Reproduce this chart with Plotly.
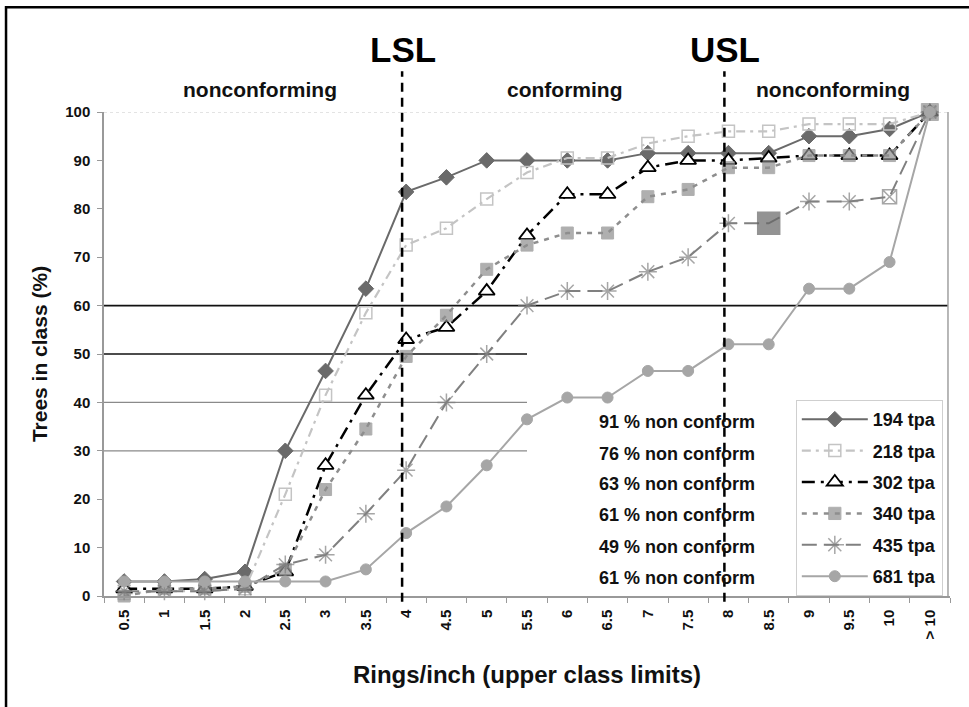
import plotly.graph_objects as go

categories = ["0.5", "1", "1.5", "2", "2.5", "3", "3.5", "4", "4.5", "5", "5.5",
              "6", "6.5", "7", "7.5", "8", "8.5", "9", "9.5", "10", "> 10"]

tpa_194 = [3, 3, 3.5, 5, 30, 46.5, 63.5, 83.5, 86.5, 90, 90, 90, 90, 91.5, 91.5, 91.5, 91.5, 95, 95, 96.5, 100]
tpa_218 = [0.5, 1, 1, 1.5, 21, 41.5, 58.5, 72.5, 76, 82, 87.5, 90.5, 90.5, 93.5, 95, 96, 96, 97.5, 97.5, 97.5, 100]
tpa_302 = [1.5, 1.5, 1.5, 2, 5, 27, 41.5, 53, 55.5, 63, 74.5, 83, 83, 88.5, 90, 90, 90.5, 91, 91, 91, 100]
tpa_340 = [0, 1.5, 1.5, 2, 5.5, 22, 34.5, 49.5, 58, 67.5, 72.5, 75, 75, 82.5, 84, 88.5, 88.5, 91, 91, 91, 100]
tpa_435 = [1, 1, 1, 1.5, 6.5, 8.5, 17, 26, 40, 50, 60, 63, 63, 67, 70, 77, 77, 81.5, 81.5, 82.5, 100]
tpa_681 = [3, 3, 3, 3, 3, 3, 5.5, 13, 18.5, 27, 36.5, 41, 41, 46.5, 46.5, 52, 52, 63.5, 63.5, 69, 100]

series_names = ["194 tpa", "218 tpa", "302 tpa", "340 tpa", "435 tpa", "681 tpa"]
nonconform_labels = ["91 % non conform", "76 % non conform", "63 % non conform",
                     "61 % non conform", "49 % non conform", "61 % non conform"]
spec_limits = {"LSL": "4", "USL": "8"}

FONT = "Liberation Sans, Arial, sans-serif"
fig = go.Figure()

n = len(categories)

def add(y, name, color, dash, width, symbol, size, mfill, mline_color, mline_w, group):
    fig.add_trace(go.Scatter(
        x=categories, y=y, name=name, mode="lines+markers", legendgroup=group,
        line=dict(color=color, dash=dash, width=width),
        marker=dict(symbol=symbol, size=size, color=mfill,
                    line=dict(color=mline_color, width=mline_w)),
        cliponaxis=False))

add(tpa_194, series_names[0], "#6a6a6a", "solid", 2, "diamond", 12, "#6a6a6a", "#6a6a6a", 1, "a")
add(tpa_218, series_names[1], "#c4c4c4", "9px,5px,3px,5px", 2.2, "square-open", 12, "#c4c4c4", "#b8b8b8", 1.5, "b")
add(tpa_302, series_names[2], "#000000", "13px,6px,3px,6px", 2.5, "triangle-up", 14, "white", "#000000", 1.8, "c")
add(tpa_340, series_names[3], "#8e8e8e", "5px,6px", 2.5,
    "square", [12] * (n - 1) + [17], "#8e8e8e", "#8e8e8e", 1, "d")
sym435 = ["asterisk-open"] * n
size435 = [15] * n
col435 = ["#808080"] * n
sym435[16] = "square"; size435[16] = 22; col435[16] = "#666666"
sym435[19] = "square-x-open"; size435[19] = 14
fig.add_trace(go.Scatter(
    x=categories, y=tpa_435, name=series_names[4], mode="lines+markers", legendgroup="e",
    line=dict(color="#808080", dash="15px,7px", width=2),
    marker=dict(symbol=sym435, size=size435, color=col435, line=dict(color=col435, width=1.5)),
    cliponaxis=False))
add(tpa_681, series_names[5], "#a6a6a6", "solid", 2, "circle", 11, "#a6a6a6", "#a6a6a6", 1, "f")

shapes = []
shapes.append(dict(type="line", xref="x", yref="y", x0=-0.65, x1=20.45, y0=60, y1=60,
                   line=dict(color="#111111", width=1.6), layer="below"))
shapes.append(dict(type="line", xref="x", yref="y", x0=-0.5, x1=10, y0=50, y1=50,
                   line=dict(color="#111111", width=1.6), layer="below"))
for yv in (40, 30):
    shapes.append(dict(type="line", xref="x", yref="y", x0=-0.65, x1=10, y0=yv, y1=yv,
                       line=dict(color="#8a8a8a", width=1.2), layer="below"))
shapes.append(dict(type="line", xref="x", yref="y", x0=-0.5, x1=20.45, y0=100, y1=100,
                   line=dict(color="#c8c8c8", width=1, dash="dot"), layer="below"))
shapes.append(dict(type="line", xref="x", yref="y", x0=20.45, x1=20.45, y0=0, y1=100,
                   line=dict(color="#a0a0a0", width=1.5), layer="below"))
lim_pos = {}
for lab, cat in spec_limits.items():
    idx = categories.index(cat) - 0.1
    px = (idx + 0.5) / n
    lim_pos[lab] = idx
    shapes.append(dict(type="line", xref="paper", yref="paper", x0=px, x1=px, y0=-0.012, y1=1.084,
                       line=dict(color="#000000", width=2.5, dash="9px,6px")))
shapes.append(dict(type="rect", xref="paper", yref="paper", x0=-0.1158, x1=1.04, y0=-0.3, y1=1.2164,
                   line=dict(color="#000000", width=2.5), layer="below"))

ann = []
for lab, idx in lim_pos.items():
    ann.append(dict(x=idx + 0.02, y=1.129, xref="x", yref="paper", text=lab, showarrow=False,
                    font=dict(family=FONT, size=35, color="#000", weight="bold"),
                    xanchor="center", yanchor="middle"))
for xv, t in ((3.37, "nonconforming"), (10.94, "conforming"), (17.6, "nonconforming")):
    ann.append(dict(x=xv, y=1.0466, xref="x", yref="paper", text=t, showarrow=False,
                    yanchor="middle",
                    font=dict(family=FONT, size=21, color="#111", weight="bold")))
ys = [36, 29.4, 23.1, 16.7, 10.1, 3.7]
for yv, t in zip(ys, nonconform_labels):
    ann.append(dict(x=15.72, y=yv, xref="x", yref="y", text=t, showarrow=False, xanchor="right",
                    font=dict(family=FONT, size=18, color="#111", weight="bold")))

fig.update_layout(
    width=969, height=707,
    margin=dict(l=104, r=19, t=112, b=111),
    paper_bgcolor="white", plot_bgcolor="white",
    font=dict(family=FONT, color="#111"),
    shapes=shapes, annotations=ann,
    showlegend=True,
    legend=dict(x=0.9915, y=0.0, xanchor="right", yanchor="bottom",
                traceorder="grouped", tracegroupgap=5, itemwidth=66,
                bordercolor="#cfcfcf", borderwidth=1, bgcolor="white",
                font=dict(family=FONT, size=18, color="#111", weight="bold")),
    xaxis=dict(type="category", categoryorder="array", categoryarray=categories,
               range=[-0.5, 20.5], tickangle=-90, tickson="boundaries",
               ticks="outside", ticklen=5, tickcolor="#999", showline=True,
               linecolor="#999", linewidth=1.5, showgrid=False, zeroline=False,
               ticklabelstandoff=6,
               tickfont=dict(family=FONT, size=15, color="#111", weight="bold"),
               title=dict(text="Rings/inch (upper class limits)", standoff=28,
                          font=dict(family=FONT, size=24, color="#111", weight="bold"))),
    yaxis=dict(range=[0, 100], dtick=10, ticks="outside", ticklen=5, tickcolor="#999",
               showline=True, linecolor="#999", linewidth=1.5, showgrid=False, zeroline=False,
               ticklabelstandoff=4,
               tickfont=dict(family=FONT, size=15, color="#111", weight="bold"),
               title=dict(text="Trees in class (%)", standoff=12,
                          font=dict(family=FONT, size=21, color="#111", weight="bold"))),
)

fig.write_html("out.html", config={"displayModeBar": False},
               post_script="document.body.style.margin='0px';document.body.style.overflow='hidden';")
